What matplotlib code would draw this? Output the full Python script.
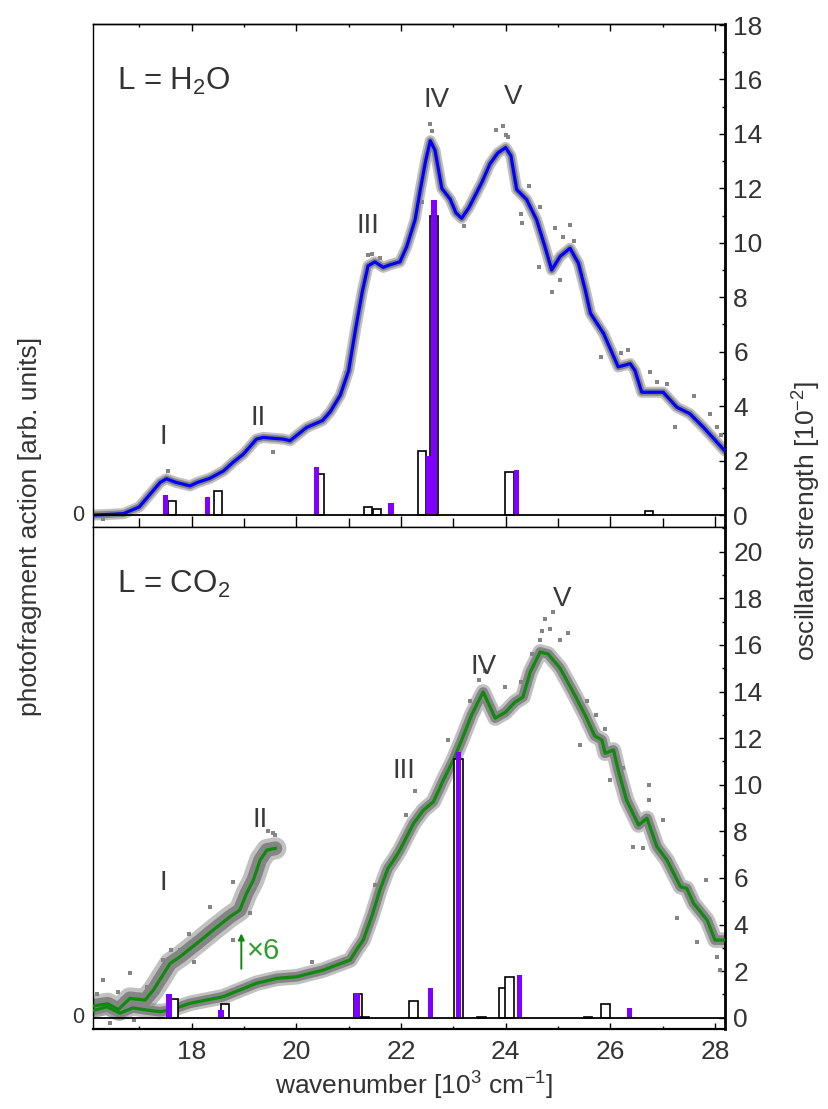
import matplotlib
matplotlib.use("Agg")
import matplotlib.pyplot as plt
from matplotlib.ticker import MultipleLocator
import matplotlib.transforms as mtransforms

plt.rcParams['font.family'] = ['Liberation Sans', 'DejaVu Sans']
plt.rcParams['mathtext.fontset'] = 'custom'
plt.rcParams['mathtext.rm'] = 'Liberation Sans'

# ---------------- L = H2O ----------------
h2o_x = [16.11, 16.4, 16.7, 17.0, 17.2, 17.4, 17.52, 17.7, 17.97, 18.1, 18.35, 18.61,
         18.8, 18.99, 19.24, 19.37, 19.55, 19.75, 19.88, 20.2, 20.5, 20.65, 20.84, 21.0,
         21.13, 21.26, 21.37, 21.5, 21.66, 21.8, 21.98, 22.11, 22.27, 22.37, 22.47, 22.56,
         22.65, 22.78, 22.94, 23.05, 23.16, 23.3, 23.38, 23.54, 23.7, 23.85, 24.0, 24.1,
         24.21, 24.4, 24.59, 24.75, 24.88, 25.04, 25.23, 25.39, 25.52, 25.62, 25.87, 26.15,
         26.38, 26.47, 26.6, 27.01, 27.27, 27.52, 27.78, 28.19]
h2o_y = [0.0, 0.02, 0.05, 0.3, 0.75, 1.2, 1.33, 1.2, 1.07, 1.19, 1.35, 1.62,
         1.95, 2.24, 2.79, 2.85, 2.82, 2.79, 2.73, 3.22, 3.47, 3.8, 4.4, 5.3,
         6.8, 8.2, 9.15, 9.3, 9.1, 9.2, 9.3, 9.86, 10.85, 11.96, 13.0, 13.75,
         13.4, 12.0, 11.6, 11.1, 10.9, 11.3, 11.6, 12.2, 12.9, 13.3, 13.5, 13.2,
         11.96, 11.59, 10.85, 9.86, 9.0, 9.5, 9.8, 9.25, 8.27, 7.41, 6.67, 5.44,
         5.56, 5.31, 4.51, 4.51, 3.96, 3.72, 3.22, 2.35]

h2o_scatter_x = [24.3, 24.31, 24.65, 24.94, 25.23, 24.63, 24.88, 25.04, 25.83, 26.33,
                 26.76, 27.08, 27.24, 27.59, 28.03, 22.56, 23.81, 24.0, 21.37, 19.56,
                 22.6, 23.95, 24.05, 23.2, 21.45, 21.6, 25.1, 25.3, 26.9, 27.9,
                 28.12, 26.2, 24.45, 22.4, 20.95, 17.55, 16.3]
h2o_scatter_y = [11.06, 10.73, 11.33, 10.54, 10.66, 9.12, 8.2, 8.63, 5.8, 6.05,
                 5.25, 4.82, 3.22, 4.39, 3.22, 14.35, 14.16, 13.95, 9.55, 2.3,
                 14.1, 14.3, 13.9, 10.6, 9.6, 9.45, 10.2, 10.05, 4.9, 3.7,
                 2.95, 5.95, 12.1, 11.5, 5.2, 1.6, -0.15]

h2o_open_x = [17.62, 18.51, 20.45, 21.37, 21.54, 22.40, 22.63, 24.07, 26.74]
h2o_open_f = [0.52, 0.89, 1.51, 0.28, 0.22, 2.36, 10.97, 1.58, 0.15]
h2o_fill_x = [17.50, 18.31, 20.38, 21.81, 22.52, 22.63, 24.20]
h2o_fill_f = [0.74, 0.68, 1.75, 0.45, 2.15, 11.56, 1.66]

h2o_peaks = ['I', 'II', 'III', 'IV', 'V']
h2o_peak_x = [17.45, 19.28, 21.37, 22.68, 24.15]
h2o_peak_y = [2.85, 3.55, 10.6, 15.25, 15.35]

# ---------------- L = CO2 ----------------
co2_x = [16.11, 16.38, 16.63, 16.88, 17.14, 17.4, 17.59, 17.97, 18.6, 19.24, 19.63,
         20.01, 20.52, 21.03, 21.15, 21.28, 21.45, 21.6, 21.75, 21.9, 21.98, 22.24,
         22.43, 22.62, 22.81, 23.0, 23.16, 23.35, 23.57, 23.8, 23.99, 24.18, 24.33,
         24.47, 24.66, 24.81, 25.04, 25.27, 25.52, 25.7, 25.84, 25.9, 26.06, 26.15,
         26.31, 26.54, 26.7, 26.89, 27.08, 27.34, 27.46, 27.59, 27.85, 28.0, 28.19]
co2_y = [0.3, 0.47, 0.2, 0.42, 0.33, 0.26, 0.33, 0.62, 0.9, 1.48, 1.69,
         1.76, 2.05, 2.48, 2.91, 3.34, 4.4, 5.5, 6.4, 6.9, 7.2, 8.34,
         8.91, 9.27, 10.2, 11.06, 11.92, 13.0, 13.98, 12.86, 13.1, 13.55, 13.76,
         14.83, 15.7, 15.61, 15.0, 14.06, 12.98, 12.1, 11.92, 11.35, 11.49, 10.63,
         9.34, 8.27, 8.56, 7.34, 6.77, 5.62, 5.55, 4.91, 4.19, 3.33, 3.33]

co2_x6_x = [16.11, 16.4, 16.6, 16.82, 17.11, 17.27, 17.59, 17.78, 18.16, 18.41, 18.73,
            18.92, 19.05, 19.18, 19.31, 19.44, 19.6]
co2_x6_y = [0.5, 0.6, 0.35, 0.83, 0.76, 1.19, 2.33, 2.62, 3.3, 3.76, 4.33,
            4.62, 5.34, 5.91, 6.77, 7.2, 7.27]

co2_scatter_x = [24.76, 24.85, 24.66, 25.04, 23.99, 23.32, 22.27, 25.73, 26.73, 26.73,
                 27.01, 26.44, 26.63, 27.27, 27.82, 27.66, 28.03, 28.1, 26.0, 25.42,
                 19.56, 18.8, 18.35, 18.16, 18.8, 19.11, 16.31, 16.82, 17.46, 17.78,
                 16.89, 16.44, 24.9, 24.7, 25.2, 23.6, 23.5, 24.3, 24.5, 22.1,
                 22.9, 25.55, 25.9, 19.45, 19.6, 18.55, 17.95, 17.6, 17.15, 16.6,
                 16.2, 17.35, 18.05, 20.3, 21.5, 26.25]
co2_scatter_y = [17.1, 16.7, 16.2, 16.2, 14.2, 13.6, 9.75, 13.0, 9.99, 9.34,
                 8.48, 7.34, 7.27, 4.27, 5.91, 3.26, 2.62, 2.05, 10.2, 11.7,
                 7.91, 5.84, 4.76, 3.05, 3.33, 4.48, 1.62, 1.9, 2.48, 2.91,
                 -0.1, -0.23, 17.4, 16.6, 16.5, 14.9, 14.5, 14.4, 15.6, 8.7,
                 11.9, 13.6, 12.4, 8.0, 7.85, 4.2, 3.6, 2.9, 1.3, 1.1,
                 1.0, 1.8, 2.4, 2.4, 5.7, 10.7]

co2_open_x = [17.66, 18.64, 21.18, 21.30, 22.24, 23.10, 23.54, 23.95, 24.07, 25.57, 25.91]
co2_open_f = [0.8, 0.57, 1.0, 0.05, 0.73, 11.1, 0.03, 1.26, 1.73, 0.03, 0.57]
co2_fill_x = [17.57, 18.56, 21.16, 22.57, 23.10, 24.27, 26.37]
co2_fill_f = [1.0, 0.33, 1.07, 1.26, 11.39, 1.83, 0.43]

co2_peaks = ['I', 'II', 'III', 'IV', 'V']
co2_peak_x = [17.45, 19.3, 22.06, 23.58, 25.07]
co2_peak_y = [5.8, 8.5, 10.6, 15.05, 17.95]

XLIM = (16.11, 28.19)
PURPLE = '#8000ff'
GRAY = '#858585'
TEXT_GRAY = '#3a3a3a'
GREEN = '#0f8a0f'
FS = 19

fig = plt.figure(figsize=(8.29, 11.09), dpi=100)
ax_top = fig.add_axes([0.1118, 0.5248, 0.7627, 0.4536])
ax_bot = fig.add_axes([0.1118, 0.0721, 0.7627, 0.4527])


def gray_band(ax, x, y, width):
    # measured points cluster tightly around the smoothed trace
    ax.plot(x, y, color=GRAY, lw=width * 1.6, alpha=0.5, solid_capstyle='round',
            solid_joinstyle='round', zorder=2)
    ax.plot(x, y, color=GRAY, lw=width, solid_capstyle='round',
            solid_joinstyle='round', zorder=2)


def draw_panel(ax, x, y, line_color, band_w, sx, sy, ox, of, fx, ff):
    gray_band(ax, x, y, band_w)
    ax.plot(sx, sy, ls='none', marker='s', ms=2.8, color=GRAY, mew=0, zorder=2)
    ax.plot(x, y, color=line_color, lw=2.3, zorder=3)
    ax.bar(ox, of, width=0.16, facecolor='white', edgecolor='black', lw=1.2, zorder=4)
    ax.bar(fx, ff, width=0.10, color=PURPLE, lw=0, zorder=5)
    ax.axhline(0, color='black', lw=1.3, zorder=6)
    ax.set_xlim(*XLIM)


draw_panel(ax_top, h2o_x, h2o_y, '#0000ff', 5.0, h2o_scatter_x, h2o_scatter_y,
           h2o_open_x, h2o_open_f, h2o_fill_x, h2o_fill_f)
draw_panel(ax_bot, co2_x, co2_y, GREEN, 7.0, co2_scatter_x, co2_scatter_y,
           co2_open_x, co2_open_f, co2_fill_x, co2_fill_f)
# magnified (x6) low-energy trace
gray_band(ax_bot, co2_x6_x, co2_x6_y, 10.0)
ax_bot.plot(co2_x6_x, co2_x6_y, color=GREEN, lw=2.3, zorder=3)

ax_top.set_ylim(-0.44, 18.04)
ax_bot.set_ylim(-0.485, 21.06)

for ax in (ax_top, ax_bot):
    for side in ('left', 'top', 'bottom'):
        ax.spines[side].set_linewidth(1.0)
    ax.spines['right'].set_linewidth(2.0)
    ax.yaxis.set_major_locator(MultipleLocator(2))
    ax.yaxis.set_minor_locator(MultipleLocator(1))
    ax.xaxis.set_major_locator(MultipleLocator(2))
    ax.xaxis.set_minor_locator(MultipleLocator(1))
    ax.tick_params(axis='y', which='both', direction='in', left=False, right=True,
                   labelleft=False, labelright=True, labelsize=FS, pad=6,
                   labelcolor='#333333')
    ax.tick_params(axis='y', which='major', length=4.0, width=1.0)
    ax.tick_params(axis='y', which='minor', length=2.5, width=1.0)
    # left axis only marks the zero of the action signal
    tr = mtransforms.blended_transform_factory(ax.transAxes, ax.transData)
    ax.text(-0.014, 0, '0', transform=tr, ha='right', va='center',
            fontsize=FS * 0.82, color='#333333')

# top panel: long inward ticks on the lower edge, short ones on the top edge
ax_top.tick_params(axis='x', which='both', direction='in', top=False, bottom=True,
                   labelbottom=False, labeltop=False)
ax_top.tick_params(axis='x', which='major', length=8.0, width=1.0)
ax_top.tick_params(axis='x', which='minor', length=6.5, width=1.0)
sec = ax_top.secondary_xaxis('top')
sec.xaxis.set_major_locator(MultipleLocator(2))
sec.xaxis.set_minor_locator(MultipleLocator(1))
sec.tick_params(axis='x', which='both', direction='in', labeltop=False)
sec.tick_params(axis='x', which='major', length=4.8, width=1.0)
sec.tick_params(axis='x', which='minor', length=2.0, width=1.0)
sec.spines['top'].set_linewidth(1.0)

ax_bot.tick_params(axis='x', which='both', direction='in', top=False, bottom=True,
                   labelsize=FS, pad=8, labelcolor='#333333')
ax_bot.tick_params(axis='x', which='major', length=4.0, width=1.0)
ax_bot.tick_params(axis='x', which='minor', length=2.2, width=1.0)
ax_bot.spines['bottom'].set_linewidth(1.6)

# panel annotations
ax_top.text(0.038, 0.885, r'L = H$_2$O', transform=ax_top.transAxes, fontsize=22.5,
            color='#333333', ha='left', va='center')
ax_bot.text(0.038, 0.885, r'L = CO$_2$', transform=ax_bot.transAxes, fontsize=22.5,
            color='#333333', ha='left', va='center')
for lab, px, py in zip(h2o_peaks, h2o_peak_x, h2o_peak_y):
    ax_top.text(px, py, lab, fontsize=20, color=TEXT_GRAY, ha='center', va='center')
for lab, px, py in zip(co2_peaks, co2_peak_x, co2_peak_y):
    ax_bot.text(px, py, lab, fontsize=20, color=TEXT_GRAY, ha='center', va='center')

ax_bot.annotate('', xy=(18.95, 3.62), xytext=(18.95, 2.1),
                arrowprops=dict(arrowstyle='-|>', color=GREEN, lw=1.4,
                                mutation_scale=9, shrinkA=0, shrinkB=0))
ax_bot.text(19.06, 2.85, '×6', fontsize=21, color='#2f9e2f', ha='left', va='center')

# axis labels
fig.text(0.5, 0.022, r'wavenumber [10$^3$ cm$^{-1}$]', ha='center', va='center',
         fontsize=FS, color='#333333')
fig.text(0.036, 0.525, 'photofragment action [arb. units]', rotation=90,
         ha='center', va='center', fontsize=FS, color='#333333')
fig.text(0.972, 0.53, r'oscillator strength [10$^{-2}$]', rotation=90,
         ha='center', va='center', fontsize=FS, color='#333333')

fig.savefig('out.png', dpi=100)
